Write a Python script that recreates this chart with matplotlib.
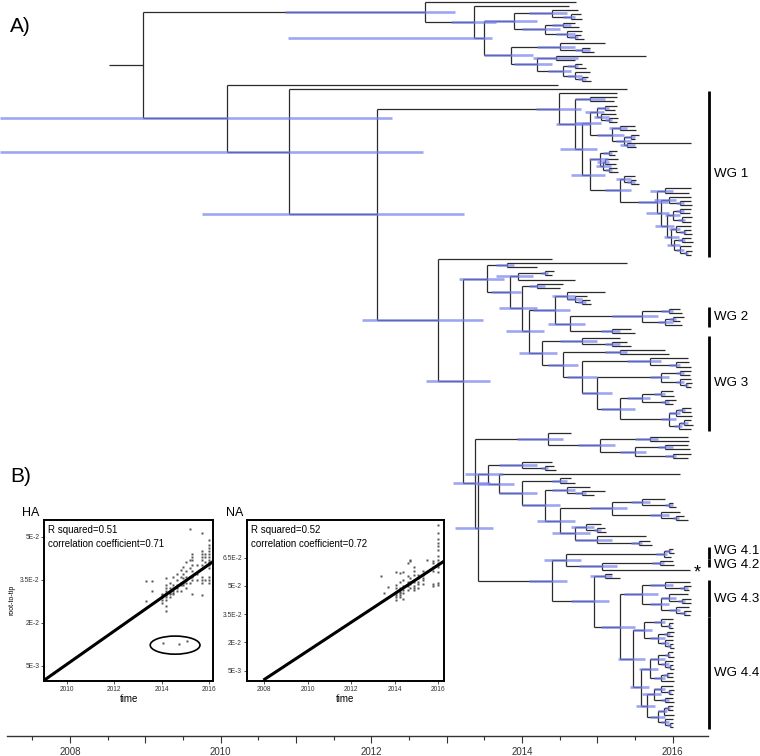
import matplotlib
matplotlib.use("Agg")
import matplotlib.pyplot as plt
from matplotlib.collections import LineCollection
from matplotlib.patches import Ellipse

plt.rcParams["font.family"] = ["Liberation Sans", "DejaVu Sans"]

# ---- tree data: "(children)age/lo/hi@tag", ages are years after 2000,
# lo/hi = HPD bar extent to the left/right of the node age
ROOT_STUB = 2008.52

TOP_A = "((14.75,(14.78,14.8)14.65/.1/.05)14.4/.3/.2,((14.7,14.76)14.55/.15/.1,(14.8,(14.78,14.82)14.7/.08/.05)14.6/.15/.1)14.3/.3/.2)13.9/.4/.3"
TOP_B = "((15.1,(14.9,14.95)14.8/.1/.1)14.5/.3/.2,((15.65,14.7)14.45/.3/.3,((14.8,14.85)14.7/.1/.05,(14.9,(14.88,14.92)14.8/.05/.05)14.7/.1/.1)14.55/.2/.1)14.2/.3/.2)13.85/.35/.3"
TOP = f"(14.72,(14.62,({TOP_A},{TOP_B})13.5/2.6/.1)13.36/.3/.3)12.71/1.86/.4"

W3 = "(((15.26,15.24)15.1/.1/.05,(15.25,(15.27,15.26)15.15/.05/.05)15.05/.1/.1)14.99/.15/.1,((15.5,15.52)15.3/.15/.1,((15.55,15.5)15.45/.08/.05,(16.25,15.52)15.4/.1/.1)15.35/.1/.1)15.2/.2/.15)14.9/.2/.15"
W5 = "((15.26,15.24)15.15/.08/.05,((15.27,15.25)15.1/.1/.05,(15.26,15.28)15.15/.05/.05)15.08/.1/.1)15.04/.15/.1"
W8 = ("((16.25,(16.24,16.26)16.1/.05/.05)15.95/.2/.1,(((16.25,16.23)16.1/.05/.05,(16.26,16.24)16.12/.05/.05)16.0/.1/.1,"
      "((16.25,(16.24,16.26)16.15/.05/.03)16.05/.1/.05,((16.25,16.27)16.12/.05/.05,(16.24,(16.26,16.25)16.18/.03/.03)16.1/.06/.05)16.02/.1/.08)15.98/.1/.1)15.92/.15/.1)15.85/.2/.1")
W6 = f"((15.5,(15.52,15.55)15.45/.05/.05)15.35/.1/.1,((16.25,16.22)15.9/.2/.1,{W8})15.79/.25/.15)15.3/.2/.15"
WG1 = f"(15.26,((15.26,15.22)14.9/.2/.2,({W3},({W5},{W6})14.9/.25/.2)14.8/.3/.2)14.7/.25/.2)14.49/.3/.3@0"

WG2 = "((16.1,16.12)15.95/.1/.05,((16.15,16.1)16.0/.05/.05,16.12)15.9/.1/.1)15.6/.4/.2@1"
C1444 = f"((15.1,(14.86,(14.9,14.92)14.8/.05/.05)14.7/.1/.1)14.6/.2/.1,({WG2},(15.45,15.5)15.2/.15/.1)14.64/.3/.2)14.44/.3/.2"
W3D = ("(((16.0,16.02)15.85/.1/.05,(16.05,16.0)15.9/.05/.05)15.6/.2/.1,(((16.25,16.24)16.12/.05/.05,16.26)16.05/.1/.05,"
       "((16.25,16.27)16.15/.05/.05,16.24)16.08/.06/.05)15.95/.1/.1)15.3/.25/.2")
W3C = f"(((16.25,16.23)16.1/.05/.05,(16.24,(16.26,16.25)16.18/.03/.03)16.1/.05/.05)15.85/.15/.1,{W3D})15.0/.2/.2"
W3B = f"((16.2,(16.22,16.25)16.05/.1/.05)15.7/.3/.15,{W3C})14.8/.2/.2"
WG3 = f"((15.3,(15.4,15.45)15.2/.1/.1)14.8/.3/.2,((15.9,15.95)15.3/.2/.1,{W3B})14.55/.2/.2)14.26/.3/.2@2"
N7 = (f"((15.4,14.2)13.8/.15/.1,(((14.42,14.4)14.3/.05/.05,14.7)13.95/.3/.2,((14.55,14.5)14.2/.1/.1,"
      f"({C1444},{WG3})14.09/.3/.2)14.0/.3/.2)13.84/.25/.15)13.54/.38/.22")

N8U = "(14.65,((16.2,16.22)15.7/.2/.1,((16.2,16.23)15.9/.1/.1,(16.25,16.2)16.0/.1/.05)15.5/.2/.15)15.04/.3/.2)14.34/.4/.2"
R1F = "((15.05,(15.1,15.12)15.0/.05/.05)14.85/.2/.1,(15.65,(15.7,15.72)15.55/.1/.05)15.0/.3/.2)14.7/.3/.2"
R1E = f"(((15.9,(16.0,16.05)15.95/.05/.05)15.6/.15/.1,(16.1,(16.15,16.2)16.05/.05/.03)15.85/.15/.1)15.2/.3/.2,{R1F})14.5/.3/.2"
R1D = f"((14.9,(15.1,14.95)14.8/.1/.05)14.6/.2/.1,{R1E})14.3/.3/.2"
R1C = f"((14.65,14.7)14.5/.1/.1,{R1D})14.0/.3/.2"
R1 = f"((14.4,(14.42,14.45)14.3/.05/.05)14.0/.3/.2,(16.1,{R1C})13.7/.3/.2)13.55/.3/.2"

WG41 = "((16.0,16.02)15.95/.05/.03,15.98)15.88/.1/.05@3"
WG42 = "(16.0,16.02)15.83/.1/.05@4"
WG43 = ("((16.23,(16.25,16.22)16.15/.05/.05)15.9/.2/.1,((16.2,(16.24,16.25)16.12/.05/.05)15.95/.1/.1,"
        "(16.22,(16.25,16.23)16.15/.05/.03)16.05/.1/.05)15.85/.15/.1)15.6/.25/.2@5")
W44A = "((16.0,(16.01,16.0)15.95/.03/.03)15.85/.1/.05,((16.02,16.0)15.93/.05/.03,(16.0,(16.01,16.02)15.96/.03/.02)15.9/.05/.05)15.8/.1/.1)15.62/.15/.1"
W44C = "(((16.0,16.02)15.94/.04/.03,(16.01,(16.0,16.02)15.96/.03/.02)15.9/.05/.05)15.8/.1/.1,((16.0,16.01)15.92/.05/.03,16.02)15.85/.1/.05)15.7/.15/.1"
W44D = ("(((16.0,(16.02,16.01)15.95/.03/.03)15.85/.1/.05,(16.0,16.02)15.9/.05/.05)15.75/.15/.1,"
        "(((16.01,16.0)15.94/.04/.03,16.02)15.88/.08/.05,(16.0,(16.01,16.0)15.96/.03/.02)15.9/.05/.05)15.8/.1/.1)15.66/.15/.1")
WG44 = f"({W44A},({W44C},{W44D})15.58/.15/.1)15.48/.2/.15@6"
R2 = (f"(({WG41},({WG42},16.23@*)15.06/.3/.2)14.59/.3/.2,"
      f"((15.2,15.3)15.1/.2/.1,({WG43},{WG44})15.3/.25/.2)14.95/.3/.2)14.4/.3/.2")

N8 = f"({N8U},({R1},{R2})13.41/.3/.2)13.38/.3/.2"
N6 = f"({N7},{N8})13.22/.5/.36"
N5 = f"(14.4,{N6})12.89/1.01/.59"
N3 = f"({WG1},{N5})12.08/2.33/1.15"
N2 = f"(15.4,{N3})10.91/3.84/1.77"
N1 = f"(14.48,{N2})10.08/3.01/2.19"
TREE = f"({TOP},{N1})8.97"

WG_NAMES = ["WG 1", "WG 2", "WG 3", "WG 4.1", "WG 4.2", "WG 4.3", "WG 4.4"]

AXIS_YEARS = [2008, 2009, 2010, 2011, 2012, 2013, 2014, 2015, 2016]
AXIS_LABELS = ["2008", "", "2010", "", "2012", "", "2014", "", "2016"]

# ---- root-to-tip regression data
HA_POINTS = [
    (2013.35, 0.0345), (2013.35, 0.0276), (2013.6, 0.0345), (2013.6, 0.031),
    (2014.0, 0.030), (2014.0, 0.0295), (2014.0, 0.029), (2014.0, 0.028), (2014.0, 0.027),
    (2014.2, 0.0357), (2014.2, 0.033), (2014.2, 0.032), (2014.2, 0.031), (2014.2, 0.0305),
    (2014.2, 0.030), (2014.2, 0.0295), (2014.2, 0.029), (2014.2, 0.028), (2014.2, 0.026), (2014.2, 0.024),
    (2014.35, 0.034), (2014.35, 0.032), (2014.35, 0.031), (2014.35, 0.0305), (2014.35, 0.030), (2014.35, 0.029),
    (2014.5, 0.036), (2014.5, 0.033), (2014.5, 0.032), (2014.5, 0.031), (2014.5, 0.0305), (2014.5, 0.030),
    (2014.65, 0.037), (2014.65, 0.035), (2014.65, 0.033), (2014.65, 0.032), (2014.65, 0.031),
    (2014.8, 0.0385), (2014.8, 0.036), (2014.8, 0.034), (2014.8, 0.033), (2014.8, 0.031),
    (2014.92, 0.0395), (2014.92, 0.037), (2014.92, 0.0355), (2014.92, 0.034), (2014.92, 0.033),
    (2015.05, 0.041), (2015.05, 0.038), (2015.05, 0.036), (2015.05, 0.035), (2015.05, 0.034), (2015.05, 0.032),
    (2015.2, 0.0527), (2015.2, 0.042), (2015.2, 0.039), (2015.2, 0.036), (2015.2, 0.034),
    (2015.3, 0.044), (2015.3, 0.043), (2015.3, 0.042), (2015.3, 0.040), (2015.3, 0.038),
    (2015.3, 0.036), (2015.3, 0.035), (2015.3, 0.030),
    (2015.5, 0.040), (2015.5, 0.037), (2015.5, 0.035),
    (2015.7, 0.0512), (2015.7, 0.045), (2015.7, 0.044), (2015.7, 0.043), (2015.7, 0.042),
    (2015.7, 0.040), (2015.7, 0.036), (2015.7, 0.035), (2015.7, 0.034), (2015.7, 0.0296),
    (2015.85, 0.044), (2015.85, 0.043), (2015.85, 0.041), (2015.85, 0.035),
    (2016.0, 0.0488), (2016.0, 0.047), (2016.0, 0.046), (2016.0, 0.045), (2016.0, 0.044),
    (2016.0, 0.043), (2016.0, 0.042), (2016.0, 0.041), (2016.0, 0.040), (2016.0, 0.039),
    (2016.0, 0.036), (2016.0, 0.035), (2016.0, 0.034),
    (2014.08, 0.013), (2014.75, 0.0125), (2015.09, 0.0136),
]
NA_POINTS = [
    (2013.39, 0.055), (2013.5, 0.0461), (2013.67, 0.0496),
    (2014.08, 0.0576), (2014.08, 0.0505), (2014.08, 0.049), (2014.08, 0.047), (2014.08, 0.046),
    (2014.08, 0.045), (2014.08, 0.044), (2014.08, 0.0426),
    (2014.25, 0.0568), (2014.25, 0.052), (2014.25, 0.049), (2014.25, 0.048), (2014.25, 0.047),
    (2014.25, 0.046), (2014.25, 0.045), (2014.25, 0.044),
    (2014.4, 0.0576), (2014.4, 0.053), (2014.4, 0.050), (2014.4, 0.048), (2014.4, 0.046), (2014.4, 0.043),
    (2014.6, 0.062), (2014.6, 0.055), (2014.6, 0.052), (2014.6, 0.050), (2014.6, 0.048),
    (2014.72, 0.064), (2014.72, 0.063), (2014.72, 0.054), (2014.72, 0.052), (2014.72, 0.051), (2014.72, 0.049),
    (2014.9, 0.060), (2014.9, 0.058), (2014.9, 0.056), (2014.9, 0.053), (2014.9, 0.052),
    (2014.9, 0.050), (2014.9, 0.049), (2014.9, 0.048),
    (2015.05, 0.056), (2015.05, 0.054), (2015.05, 0.052), (2015.05, 0.051), (2015.05, 0.049),
    (2015.3, 0.058), (2015.3, 0.056), (2015.3, 0.054), (2015.3, 0.053), (2015.3, 0.051),
    (2015.5, 0.0638),
    (2015.75, 0.063), (2015.75, 0.062), (2015.75, 0.060), (2015.75, 0.058), (2015.75, 0.051), (2015.75, 0.050),
    (2016.0, 0.0823), (2016.0, 0.078), (2016.0, 0.075), (2016.0, 0.073), (2016.0, 0.071),
    (2016.0, 0.069), (2016.0, 0.066), (2016.0, 0.064), (2016.0, 0.062), (2016.0, 0.061),
    (2016.0, 0.060), (2016.0, 0.0576), (2016.0, 0.0514), (2016.0, 0.0505),
]
HA_LINE_X = [2009.05, 2016.17]
HA_LINE_Y = [0.0, 0.0413]
NA_LINE_X = [2007.96, 2016.29]
NA_LINE_Y = [0.0, 0.0633]
HA_OUTLIER_RING = (2014.57, 0.0122, 2.1, 0.0063)

FIG_W, FIG_H = 760, 756
X_LEFT, X_RIGHT = 2007.071, 2017.16
TIP_Y0, TIP_Y1 = 2.0, 727.0
BRANCH_COLOR = "#2b2b2b"
BAR_COLOR = "#7680ec"
LABEL_DY = [0, 0, 0, -2.5, 2.0, 0, 0]


# parse the annotated newick-like string into nested dicts
def parse_tree(text):
    pos = 0

    def node():
        nonlocal pos
        kids = []
        if text[pos] == "(":
            pos += 1
            kids.append(node())
            while text[pos] == ",":
                pos += 1
                kids.append(node())
            pos += 1
        start = pos
        while pos < len(text) and text[pos] not in ",()":
            pos += 1
        label = text[start:pos]
        tag = None
        if "@" in label:
            label, tag = label.split("@")
        parts = label.split("/")
        h = 2000 + float(parts[0])
        bar = None
        if len(parts) == 3:
            bar = (h - float(parts[1]), h + float(parts[2]))
        return {"h": h, "kids": kids, "bar": bar, "tag": tag}

    return node()


def assign_y(nd, counter, tips):
    if not nd["kids"]:
        nd["i"] = counter[0]
        counter[0] += 1
        tips.append(nd)
        return
    for k in nd["kids"]:
        assign_y(k, counter, tips)


def set_px(nd, step):
    if not nd["kids"]:
        nd["y"] = TIP_Y0 + nd["i"] * step
        return [nd["y"]]
    ys = []
    for k in nd["kids"]:
        ys += set_px(k, step)
    nd["y"] = (nd["kids"][0]["y"] + nd["kids"][-1]["y"]) / 2
    nd["span"] = (min(ys), max(ys))
    return ys


def walk(nd):
    yield nd
    for k in nd["kids"]:
        yield from walk(k)


root = parse_tree(TREE.replace(" ", ""))
tips = []
assign_y(root, [0], tips)
step = (TIP_Y1 - TIP_Y0) / (len(tips) - 1)
set_px(root, step)

fig = plt.figure(figsize=(FIG_W / 100, FIG_H / 100), dpi=100)
ax = fig.add_axes([0, 0, 1, 1])

branches = [[(ROOT_STUB, root["y"]), (root["h"], root["y"])]]
bars = []
for nd in walk(root):
    if nd["kids"]:
        branches.append([(nd["h"], nd["kids"][0]["y"]), (nd["h"], nd["kids"][-1]["y"])])
        for k in nd["kids"]:
            branches.append([(nd["h"], k["y"]), (k["h"], k["y"])])
    if nd["bar"] is not None:
        bars.append([(nd["bar"][0], nd["y"]), (nd["bar"][1], nd["y"])])

ax.add_collection(LineCollection(branches, colors=BRANCH_COLOR, linewidths=0.9, zorder=2))
ax.add_collection(LineCollection(bars, colors=BAR_COLOR, linewidths=1.9, alpha=0.7, zorder=3))

# clade labels
for nd in walk(root):
    if nd["tag"] is None:
        continue
    if nd["tag"] == "*":
        ax.text(nd["h"] + 0.05, nd["y"] + 3, "*", fontsize=13, ha="left", va="center")
        continue
    k = int(nd["tag"])
    y0, y1 = nd["span"]
    ax.plot([2016.48, 2016.48], [y0 - 2, y1 + 2], color="black", lw=2, solid_capstyle="butt")
    ax.text(2016.545, (y0 + y1) / 2 + LABEL_DY[k], WG_NAMES[k], fontsize=9.6, ha="left", va="center")

# time axis
for side in ["top", "left", "right"]:
    ax.spines[side].set_visible(False)
ax.spines["bottom"].set_position(("data", 736))
ax.spines["bottom"].set_bounds(2007.16, 2016.47)
ax.spines["bottom"].set_linewidth(1.0)
ax.spines["bottom"].set_color("#333333")
ax.set_yticks([])
ax.set_xticks(AXIS_YEARS)
ax.set_xticklabels(AXIS_LABELS)
ax.set_xticks([y + 0.5 for y in [2007] + AXIS_YEARS[:-1]], minor=True)
ax.tick_params(axis="x", which="major", length=5, width=0.8, labelsize=7, pad=3, colors="#333333")
ax.tick_params(axis="x", which="minor", length=3, width=0.8, colors="#333333")
ax.set_xlim(X_LEFT, X_RIGHT)
ax.set_ylim(FIG_H, 0)
ax.patch.set_alpha(0)

fig.text(10 / FIG_W, 1 - 27 / FIG_H, "A)", fontsize=15, ha="left", va="center")
fig.text(10 / FIG_W, 1 - 477 / FIG_H, "B)", fontsize=15, ha="left", va="center")


def draw_inset(rect_px, name, name_x, points, line_x, line_y, xlim, ylim, yticks, r2, cc, ylabel):
    left, top, right, bottom = rect_px
    iax = fig.add_axes([left / FIG_W, 1 - bottom / FIG_H, (right - left) / FIG_W, (bottom - top) / FIG_H])
    iax.set_facecolor("white")
    xs = [p[0] for p in points]
    ys = [p[1] for p in points]
    iax.plot(xs, ys, "s", ms=1.5, color="#555555", mec="none")
    iax.plot(line_x, line_y, color="black", lw=2.2, solid_capstyle="butt")
    iax.set_xticks([t for t in [2008, 2010, 2012, 2014, 2016] if xlim[0] < t < xlim[1]])
    iax.set_yticks(yticks)
    iax.set_yticklabels(["5E-3", "2E-2", "3.5E-2", "5E-2", "6.5E-2"][: len(yticks)])
    iax.set_xlim(*xlim)
    iax.set_ylim(*ylim)
    iax.tick_params(labelsize=4.8, length=2, width=0.6, pad=1.5, colors="#333333")
    for s in iax.spines.values():
        s.set_linewidth(1.4)
    iax.set_xlabel("time", fontsize=7, labelpad=1)
    if ylabel:
        iax.set_ylabel("root-to-tip", fontsize=5, labelpad=3)
    iax.text(0.024, 0.936, r2, transform=iax.transAxes, fontsize=7, va="center")
    iax.text(0.024, 0.849, cc, transform=iax.transAxes, fontsize=7, va="center")
    fig.text(name_x / FIG_W, 1 - 513 / FIG_H, name, fontsize=9, ha="left", va="center")
    return iax


ha_ax = draw_inset((44.3, 519.7, 213, 681), "HA", 22, HA_POINTS, HA_LINE_X, HA_LINE_Y,
                   (2009.05, 2016.17), (-0.0003, 0.0559), [0.005, 0.02, 0.035, 0.05],
                   "R squared=0.51", "correlation coefficient=0.71", True)
cx, cy, cw, ch = HA_OUTLIER_RING
ha_ax.add_patch(Ellipse((cx, cy), cw, ch, fill=False, lw=1.2, color="black"))
draw_inset((246.7, 520, 444.3, 681), "NA", 226, NA_POINTS, NA_LINE_X, NA_LINE_Y,
           (2007.19, 2016.28), (-0.0005, 0.085), [0.005, 0.02, 0.035, 0.05, 0.065],
           "R squared=0.52", "correlation coefficient=0.72", False)

fig.savefig("out.png", dpi=100)
